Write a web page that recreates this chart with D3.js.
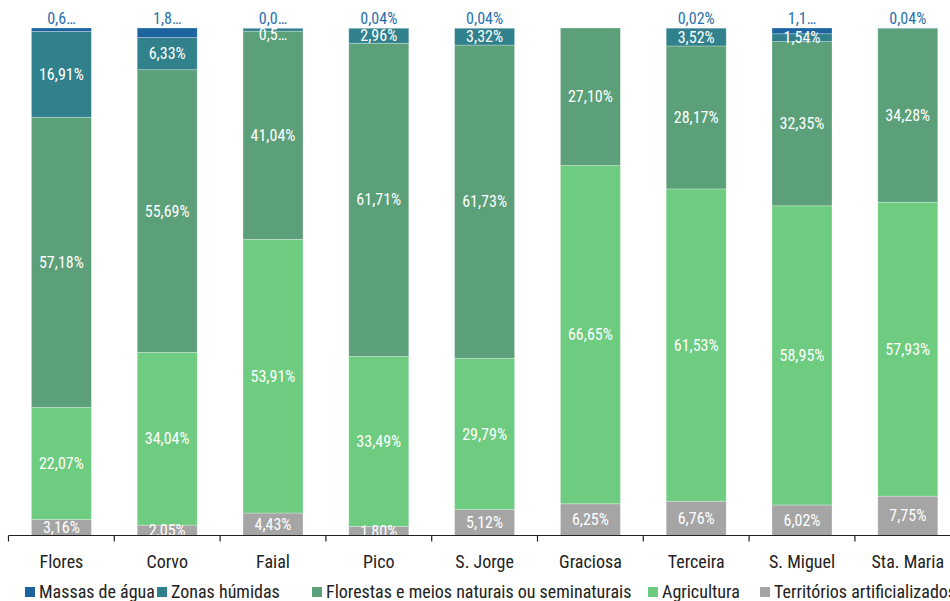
<!DOCTYPE html>
<html lang="pt">
<head>
<meta charset="utf-8">
<title>Ocupação do solo por ilha</title>
<script src="https://cdn.jsdelivr.net/npm/d3@7"></script>
<style>
  body { margin: 0; background: #fff; }
  svg text { font-family: "Roboto Condensed", "Roboto", sans-serif; }
</style>
</head>
<body>
<svg id="chart"></svg>
<script>

// ilhas
var ilhas = ["Flores", "Corvo", "Faial", "Pico", "S. Jorge", "Graciosa", "Terceira", "S. Miguel", "Sta. Maria"];

// valores em % (de baixo para cima)
var territorios = [3.16, 2.05, 4.43, 1.80, 5.12, 6.25, 6.76, 6.02, 7.75];
var agricultura = [22.07, 34.04, 53.91, 33.49, 29.79, 66.65, 61.53, 58.95, 57.93];
var florestas   = [57.18, 55.69, 41.04, 61.71, 61.73, 27.10, 28.17, 32.35, 34.28];
var zonas       = [16.91, 6.33, 0.57, 2.96, 3.32, 0, 3.52, 1.54, 0];
var massas      = [0.68, 1.89, 0.05, 0.04, 0.04, 0, 0.02, 1.14, 0.04];

// rótulos que aparecem cortados no original
var massasCortado = [true, true, true, false, false, false, false, true, false];
var zonasCortado  = [false, false, true, false, false, false, false, false, false];

var series = [
  {nome: "Territórios artificializados", valores: territorios, cor: "#a5a5a5", cortado: null},
  {nome: "Agricultura", valores: agricultura, cor: "#6dcc7f", cortado: null},
  {nome: "Florestas e meios naturais ou seminaturais", valores: florestas, cor: "#5ba079", cortado: null},
  {nome: "Zonas húmidas", valores: zonas, cor: "#31818d", cortado: zonasCortado},
  {nome: "Massas de água", valores: massas, cor: "#1b64a0", cortado: massasCortado}
];
var legendaOrdem = [4, 3, 2, 1, 0];

var width = 950, height = 601;
var margin = {top: 28, left: 8.5, bottom: 65};

var svg = d3.select("#chart").attr("width", width).attr("height", height);

var x = d3.scaleBand()
    .domain(ilhas)
    .range([margin.left, margin.left + 105.8 * ilhas.length])
    .paddingInner(0.433)
    .paddingOuter(0.2165);

var y = d3.scaleLinear()
    .domain([0, 100])
    .range([height - margin.bottom - 0.5, margin.top]);

// tabela para o stack
var tabela = ilhas.map(function(ilha, i) {
  var o = {ilha: ilha};
  series.forEach(function(s) { o[s.nome] = s.valores[i]; });
  return o;
});
var stack = d3.stack().keys(series.map(function(s) { return s.nome; }))(tabela);

svg.append("clipPath").attr("id", "clip")
  .append("rect").attr("x", 0).attr("y", 0).attr("width", width).attr("height", y(0));

var fmt = function(v, cortado) {
  var t = v.toFixed(2).replace(".", ",") + "%";
  if (cortado) t = t.slice(0, 3) + "…";
  return t;
};

var camadas = svg.append("g").selectAll("g")
  .data(stack)
  .enter().append("g")
    .attr("fill", function(d, i) { return series[i].cor; });

camadas.selectAll("rect")
  .data(function(d) { return d; })
  .enter().append("rect")
    .attr("x", function(d) { return x(d.data.ilha); })
    .attr("width", x.bandwidth())
    .attr("y", function(d) { return y(d[1]); })
    .attr("height", function(d) { return Math.max(0, y(d[0]) - y(d[1])); })
    .attr("stroke", "rgba(255,255,255,0.35)")
    .attr("stroke-width", 0.8);

// rótulos dentro das barras
var rotulos = svg.append("g").attr("clip-path", "url(#clip)");
stack.forEach(function(camada, si) {
  if (si == 4) return;
  camada.forEach(function(d, i) {
    var v = series[si].valores[i];
    if (v <= 0) return;
    var c = series[si].cortado;
    var cy = Math.max((y(d[0]) + y(d[1])) / 2, y(100) + 6.5);
    rotulos.append("text")
      .attr("x", x(d.data.ilha) + x.bandwidth() / 2)
      .attr("y", cy)
      .attr("dy", "0.35em")
      .attr("text-anchor", "middle")
      .style("font-size", "16px")
      .style("fill", "#fff")
      .text(fmt(v, c && c[i]));
  });
});

// massas de água por cima da barra
massas.forEach(function(v, i) {
  if (v <= 0) return;
  svg.append("text")
    .attr("x", x(ilhas[i]) + x.bandwidth() / 2)
    .attr("y", y(100) - 4)
    .attr("text-anchor", "middle")
    .style("font-size", "16px")
    .style("fill", "#2a70ad")
    .text(fmt(v, massasCortado[i]));
});

// eixo x
var eixo = svg.append("g").attr("transform", "translate(0," + y(0) + ")");
eixo.append("line")
  .attr("x1", margin.left).attr("x2", width)
  .attr("stroke", "#222").attr("stroke-width", 1.2);
var passos = d3.range(ilhas.length).map(function(i) { return margin.left + 105.8 * i; });
eixo.selectAll(".tick")
  .data(passos)
  .enter().append("line")
    .attr("x1", function(d) { return d; }).attr("x2", function(d) { return d; })
    .attr("y1", 0).attr("y2", 6)
    .attr("stroke", "#222").attr("stroke-width", 1.2);
eixo.selectAll(".lab")
  .data(ilhas)
  .enter().append("text")
    .attr("x", function(d) { return x(d) + x.bandwidth() / 2; })
    .attr("y", 26)
    .attr("dy", "0.35em")
    .attr("text-anchor", "middle")
    .style("font-size", "18px")
    .style("fill", "#222")
    .text(function(d) { return d; });

// legenda
var legX = [25, 157, 312, 648, 760];
var leg = svg.append("g").attr("transform", "translate(0,592)");
legendaOrdem.forEach(function(si, k) {
  var g = leg.append("g").attr("transform", "translate(" + legX[k] + ",0)");
  g.append("rect").attr("x", 0).attr("y", -5).attr("width", 10).attr("height", 10).attr("fill", series[si].cor);
  g.append("text").attr("x", 14).attr("dy", "0.35em")
    .style("font-size", "18px").style("fill", "#222")
    .text(series[si].nome);
});

</script>
</body>
</html>
